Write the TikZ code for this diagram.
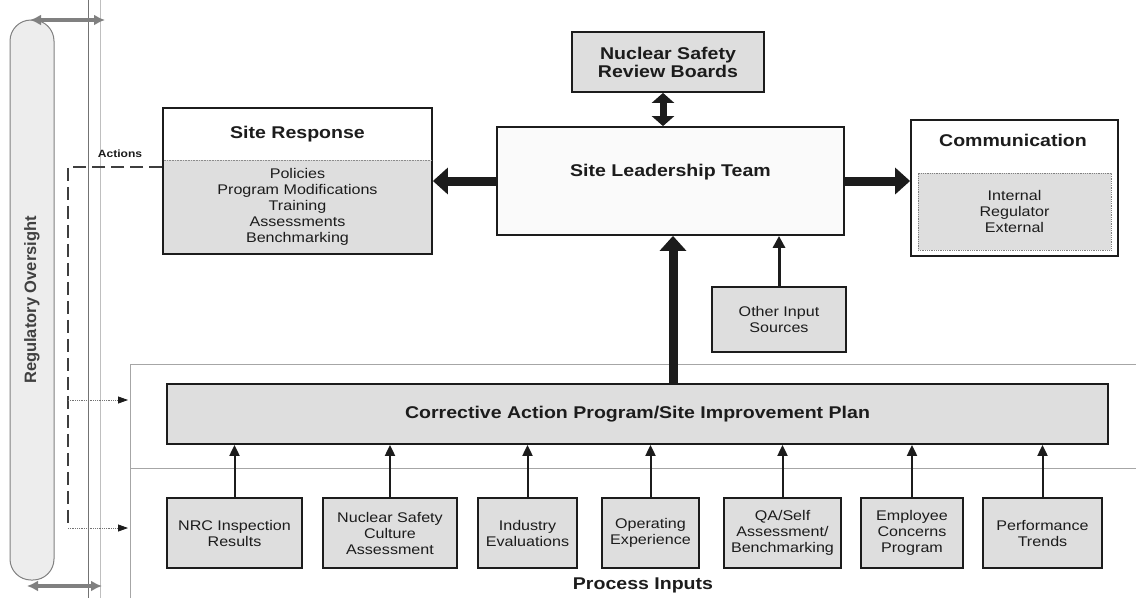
\documentclass[tikz,border=0pt]{standalone}
\usepackage{fontspec}
\setmainfont{Liberation Sans}[FakeStretch=1.15]
\newfontfamily\railfont{Liberation Sans}
\usetikzlibrary{arrows.meta}

\definecolor{ink}{RGB}{28,28,28}
\definecolor{boxgray}{RGB}{222,222,222}
\newcommand\hdfont{\fontsize{17}{18}\selectfont\bfseries}
\newcommand\txfont{\fontsize{14}{16}\selectfont}

\begin{document}
\begin{tikzpicture}[x=1pt,y=-1pt,
  panel/.style={draw=ink,line width=1.8pt,fill=white,inner sep=0pt,align=center,text=ink,font=\txfont},
  shaded/.style={panel,fill=boxgray},
  inputbox/.style={shaded,minimum height=70pt},
  heading/.style={inner sep=0pt,align=center,text=ink,font=\hdfont},
  frame/.style={black!35,line width=0.8pt},
  bigarrow/.style={ink,line width=9pt,-{Triangle[length=15pt,width=26pt]}},
  twoway/.style={ink,line width=7pt,{Triangle[length=10pt,width=22pt]}-{Triangle[length=10pt,width=22pt]}},
  feed/.style={ink,line width=2pt,-{Triangle[length=11pt,width=10pt]}},
  notify/.style={black!55,line width=0.8pt,densely dotted,-{Triangle[length=10pt,width=7pt,color=ink,fill=ink,sep=0pt]}},
  actline/.style={ink!85,line width=2pt,dash pattern=on 13pt off 6pt},
  linkarrow/.style={black!50,line width=3.5pt,{Latex[length=11pt,width=11pt]}-{Latex[length=11pt,width=11pt]}}]
\useasboundingbox (0,0) rectangle (1136,598);

\draw[black!55,line width=1pt] (88,0) -- (88,598);
\draw[black!25,line width=1pt] (100,0) -- (100,598);
\node[draw=black!50,fill=black!7,line width=1pt,rounded corners=21pt,minimum width=560pt,minimum height=44pt,
  rotate=90,text=black!75,font=\railfont\fontsize{16.5}{18}\selectfont\bfseries] (oversight) at (32,300) {Regulatory Oversight};
\coordinate (regtop) at (30,20);
\coordinate (regfoot) at (27,586);
\draw[linkarrow] (regtop) -- ++(75,0);
\draw[linkarrow] (regfoot) -- ++(75,0);

\draw[frame] (130,598) -- (130,364) -- (1136,364);
\draw[frame] (130,468) -- (1136,468);

\node[shaded,font=\hdfont,minimum width=192pt,minimum height=60pt] (boards) at (668,62) {Nuclear Safety\\Review Boards};
\node[panel,fill=black!2,minimum width=347pt,minimum height=108pt,
  label={[heading,yshift=9pt]center:Site Leadership Team}] (team) at (670.5,181) {};

\node[panel,minimum width=269pt,minimum height=146pt] (resp) at (297.5,181) {};
\node[inner sep=0pt,fill=boxgray,minimum width=267.2pt,minimum height=93pt,align=center,text=ink,font=\txfont]
  (respitems) at (297.5,206.5) {Policies\\Program Modifications\\Training\\Assessments\\Benchmarking};
\draw[black!45,line width=0.6pt,densely dotted] (respitems.north west) -- (respitems.north east);
\node[heading] (resptitle) at (297.5,134) {Site Response};

\node[panel,minimum width=207pt,minimum height=136pt] (comm) at (1014.5,188) {};
\node[heading] (commtitle) at (1013,140) {Communication};
\node[panel,fill=boxgray,draw=black!50,line width=0.8pt,densely dotted,minimum width=193pt,minimum height=77pt]
  (channels) at (1014.5,211.5) {Internal\\Regulator\\External};

\node[shaded,minimum width=134pt,minimum height=65pt] (other) at (779,319.5) {Other Input\\Sources};
\node[shaded,font=\hdfont,minimum width=941pt,minimum height=60pt] (cap) at (637.5,414) {Corrective Action Program/Site Improvement Plan};

\node[inputbox,minimum width=135pt] (nrc) at (234.5,533) {NRC Inspection\\Results};
\node[inputbox,minimum width=134pt] (culture) at (390,533) {Nuclear Safety\\Culture\\Assessment};
\node[inputbox,minimum width=99pt] (industry) at (527.5,533) {Industry\\Evaluations};
\node[inputbox,minimum width=97pt] (opex) at (650.5,533) {Operating\\Experience};
\node[inputbox,minimum width=117pt] (qa) at (782.5,533) {QA/Self\\Assessment/\\Benchmarking};
\node[inputbox,minimum width=102pt] (ecp) at (912,533) {Employee\\Concerns\\Program};
\node[inputbox,minimum width=119pt] (trends) at (1042.5,533) {Performance\\Trends};
\node[heading] (procinputs) at (643,585) {Process Inputs};

\draw[feed] (nrc.north) -- (nrc.north |- cap.south);
\draw[feed] (culture.north) -- (culture.north |- cap.south);
\draw[feed] (industry.north) -- (industry.north |- cap.south);
\draw[feed] (opex.north) -- (opex.north |- cap.south);
\draw[feed] (qa.north) -- (qa.north |- cap.south);
\draw[feed] (ecp.north) -- (ecp.north |- cap.south);
\draw[feed] (trends.north) -- (trends.north |- cap.south);

\path ([xshift=2.5pt]team.south) coordinate (uphead);
\draw[bigarrow] (uphead |- cap.north) -- (uphead);
\draw[bigarrow] (team.west) -- (resp.east);
\draw[bigarrow] (team.east) -- (team.east -| comm.west);
\path ([xshift=-5pt]boards.south) coordinate (boardfoot);
\draw[twoway] (boardfoot) -- (boardfoot |- team.north);
\draw[feed,line width=3pt,-{Triangle[length=12pt,width=12pt]}] (other.north) -- (other.north |- team.south);

\coordinate (actcorner) at (68,167);
\coordinate (actfoot) at (68,528);
\coordinate (capfeed) at (68,400);
\draw[actline] (resp.west |- actcorner) -- (actcorner) -- (actfoot);
\node[text=ink,font=\fontsize{10.5}{12}\selectfont\bfseries] (actlabel) at (120,154) {Actions};
\draw[notify] (capfeed) -- ++(60,0);
\draw[notify] (actfoot) -- ++(60,0);
\end{tikzpicture}
\end{document}
